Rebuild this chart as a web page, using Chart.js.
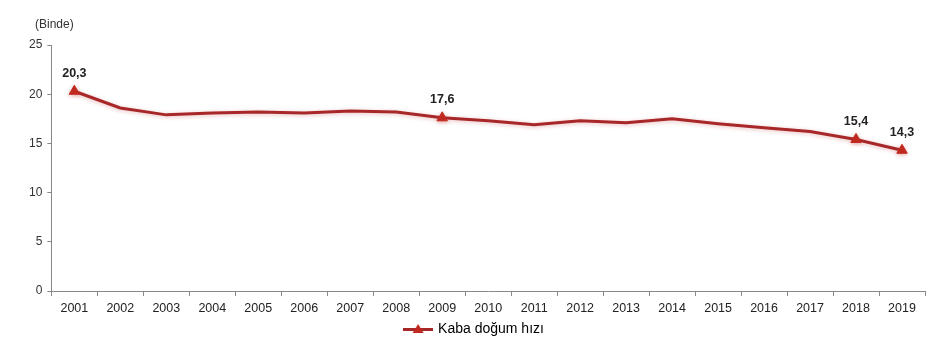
<!DOCTYPE html>
<html>
<head>
<meta charset="utf-8">
<script src="https://cdn.jsdelivr.net/npm/chart.js@4/dist/chart.umd.min.js"></script>
<style>
  html, body { margin: 0; padding: 0; background: #fff; }
  #wrap { width: 951px; height: 363px; }
</style>
</head>
<body>
<div id="wrap"><canvas id="chart" width="951" height="363"></canvas></div>
<script>
// datos
const years = ['2001','2002','2003','2004','2005','2006','2007','2008','2009','2010','2011','2012','2013','2014','2015','2016','2017','2018','2019']
const birthRate = [20.3,18.6,17.9,18.1,18.2,18.1,18.3,18.2,17.6,17.3,16.9,17.3,17.1,17.5,17.0,16.6,16.2,15.4,14.3]
const markedYears = ['2001','2009','2018','2019']
const yTicks = [0,5,10,15,20,25]
const seriesName = 'Kaba doğum hızı'
const unitLabel = '(Binde)'

const lineColor = '#a8282a'
const markerColor = '#c0281f'
Chart.defaults.font.family = '"Liberation Sans", Arial, sans-serif'
Chart.defaults.color = '#333'

const isMarked = ctx => markedYears.includes(years[ctx.dataIndex])

// icono de leyenda: linea con triangulo
const legendIcon = document.createElement('canvas')
legendIcon.width = 30
legendIcon.height = 12
{
  const c = legendIcon.getContext('2d')
  c.strokeStyle = lineColor
  c.lineWidth = 3
  c.beginPath(); c.moveTo(0, 6.5); c.lineTo(30, 6.5); c.stroke()
  c.fillStyle = markerColor
  c.beginPath(); c.moveTo(15, 1); c.lineTo(20.5, 10); c.lineTo(9.5, 10); c.closePath(); c.fill()
}

// sombra suave de la linea
const shadowPlugin = {
  id: 'lineShadow',
  beforeDatasetDraw(chart) {
    const ctx = chart.ctx
    ctx.save()
    ctx.shadowColor = 'rgba(190,60,60,0.35)'
    ctx.shadowBlur = 4
    ctx.shadowOffsetY = 1
  },
  afterDatasetDraw(chart) {
    chart.ctx.restore()
  }
}

// etiquetas de valores y unidad
const labelsPlugin = {
  id: 'valueLabels',
  afterDatasetsDraw(chart) {
    const ctx = chart.ctx
    const meta = chart.getDatasetMeta(0)
    ctx.save()
    ctx.font = 'bold 12.5px "Liberation Sans", Arial, sans-serif'
    ctx.fillStyle = '#222'
    ctx.textAlign = 'center'
    ctx.textBaseline = 'middle'
    meta.data.forEach((pt, i) => {
      if (!markedYears.includes(years[i])) return
      ctx.fillText(birthRate[i].toFixed(1).replace('.', ','), pt.x, pt.y - 18)
    })
    ctx.font = '12px "Liberation Sans", Arial, sans-serif'
    ctx.fillStyle = '#333'
    ctx.textAlign = 'left'
    ctx.fillText(unitLabel, 35, 25)
    ctx.restore()
  }
}

const data = {
  labels: years,
  datasets: [{
    label: seriesName,
    data: birthRate,
    borderColor: lineColor,
    backgroundColor: markerColor,
    borderWidth: 3,
    tension: 0,
    pointStyle: 'triangle',
    pointRadius: ctx => isMarked(ctx) ? 6 : 0,
    pointBackgroundColor: markerColor,
    pointBorderColor: markerColor,
    pointBorderWidth: 1
  }]
}

const options = {
  responsive: false,
  maintainAspectRatio: false,
  animation: false,
  layout: { padding: { left: 24, right: 26, top: 45, bottom: 17 } },
  plugins: {
    legend: {
      position: 'bottom',
      labels: {
        usePointStyle: true,
        pointStyle: legendIcon,
        pointStyleWidth: 26,
        font: { size: 14 },
        color: '#222',
        padding: 1,
        generateLabels: chart => [{
          text: seriesName,
          pointStyle: legendIcon,
          fillStyle: markerColor,
          strokeStyle: markerColor,
          lineWidth: 0,
          datasetIndex: 0
        }]
      }
    },
    tooltip: { enabled: false }
  },
  scales: {
    x: {
      offset: true,
      grid: { drawOnChartArea: false, drawTicks: true, tickLength: 5, color: '#888', offset: true },
      border: { color: '#888', width: 1 },
      ticks: { font: { size: 12.5 }, color: '#222', padding: 5, maxRotation: 0, autoSkip: false }
    },
    y: {
      min: 0,
      max: 25,
      afterBuildTicks: axis => { axis.ticks = yTicks.map(v => ({ value: v })) },
      grid: { drawOnChartArea: false, drawTicks: true, tickLength: 4, color: '#888' },
      border: { color: '#888', width: 1 },
      ticks: { font: { size: 12 }, color: '#333', padding: 5 }
    }
  }
}

new Chart('chart', { type: 'line', data, options, plugins: [shadowPlugin, labelsPlugin] })
</script>
</body>
</html>
